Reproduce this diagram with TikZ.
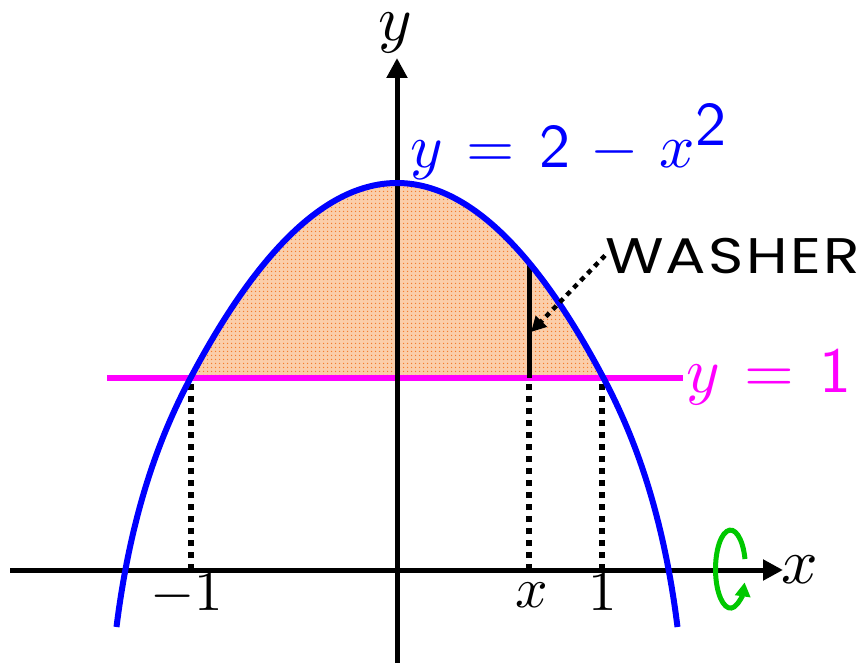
\documentclass[tikz,border=0pt]{standalone}
\usepackage{graphicx}
\usepackage{fontspec}
\newfontfamily\washfont[LetterSpace=4]{Poppins}
\usetikzlibrary{arrows.meta,patterns.meta}
\definecolor{curveblue}{RGB}{0,0,255}
\definecolor{magline}{RGB}{255,0,255}
\definecolor{rotgreen}{RGB}{0,200,0}
\definecolor{fillorange}{RGB}{251,206,170}
\definecolor{dotorange}{RGB}{245,125,45}
\newcommand\myBigMath[1]{\scalebox{6.4}{#1}}
\newcommand\myEqMath[1]{\scalebox{6.2}{#1}}
\newcommand\myTickMath[1]{\scalebox{5.7}{#1}}
\begin{document}
\begin{tikzpicture}[x=1pt,y=-1pt,
  every node/.style={inner sep=0pt,outer sep=0pt},
  axisline/.style={line width=5pt,-{Triangle[length=20pt,width=20pt]}},
  dotline/.style={line width=5.5pt,dash pattern=on 6pt off 6pt},
  curveline/.style={line width=6pt,draw=curveblue},
  onelin/.style={line width=5.5pt,draw=magline},
  washerline/.style={line width=5pt},
  pointer/.style={line width=4.5pt,dash pattern=on 5pt off 5pt,-{Triangle[length=15pt,width=15pt]}},
  rotarrow/.style={line width=5pt,draw=rotgreen,-{Triangle[length=14pt,width=15pt]}},
  ticklbl/.style={anchor=base},
]
\useasboundingbox (0,0) rectangle (865,663);

\def\curvepath{(116.5,627) .. controls (131.5,507) and (162.5,430.9) .. (190.5,378)
  .. controls (259.33,248) and (328.17,183) .. (397,183)
  .. controls (465.83,183) and (534.67,248) .. (603.5,378)
  .. controls (631.5,430.9) and (662.5,507) .. (677.5,627)}

% shaded region
\begin{scope}
  \clip \curvepath;
  \fill[fillorange] (150,170) rectangle (650,378);
  \fill[pattern={Dots[distance=4pt,radius=0.9pt]},pattern color=dotorange] (150,170) rectangle (650,378);
\end{scope}

% coordinates
\coordinate (oneL) at (107,378);
\coordinate (oneR) at (683,378);
\coordinate (dLtop) at (191,381);
\coordinate (dLbot) at (191,570);
\coordinate (dXtop) at (529,381);
\coordinate (dXbot) at (529,570);
\coordinate (dRtop) at (602,381);
\coordinate (dRbot) at (602,570);
\coordinate (wTop) at (529,262);
\coordinate (wBot) at (529,378);
\coordinate (xStart) at (10,570);
\coordinate (xEnd) at (783,570);
\coordinate (yStart) at (397,663);
\coordinate (yEnd) at (397,58);
\coordinate (wTip) at (531,332);

% y = 1 line
\draw[onelin] (oneL) -- (oneR);

% dotted drops
\draw[dotline] (dLbot) -- (dLtop);
\draw[dotline] (dXbot) -- (dXtop);
\draw[dotline] (dRbot) -- (dRtop);

% washer segment
\draw[washerline] (wTop) -- (wBot);

% axes
\draw[axisline] (xStart) -- (xEnd);
\draw[axisline] (yStart) -- (yEnd);

% parabola
\draw[curveline] \curvepath;

% rotation arrow
\draw[rotarrow] (745,559) arc[start angle=-15,end angle=-340,x radius=15,y radius=39];

% labels
\node[anchor=base] (ylab) at (395,41) {\myBigMath{$y$}};
\node[anchor=base] (xlab) at (800,583) {\myBigMath{$x$}};
\node[ticklbl] (tm1) at (187,610) {\myTickMath{$-1$}};
\node[ticklbl] (tx) at (532,607) {\myTickMath{$x$}};
\node[ticklbl] (t1) at (603,610) {\myTickMath{$1$}};
\node[anchor=base west,text=curveblue] (curvelbl) at (410,168) {\myEqMath{$y\mskip7mu{=}\mskip7mu\textsf{2}\mskip6mu{-}\mskip6mu x^{\textsf{2}}$}};
\node[anchor=base west,text=magline] (onelbl) at (686,392) {\myBigMath{$y\mskip7mu{=}\mskip7mu\textsf{1}$}};
\node[anchor=base west] (wash) at (605,273) {\scalebox{1.2}[1]{\washfont\fontsize{50}{56}\selectfont WASHER}};

% pointer
\draw[pointer] (wash.west) -- (wTip);
\end{tikzpicture}
\end{document}
